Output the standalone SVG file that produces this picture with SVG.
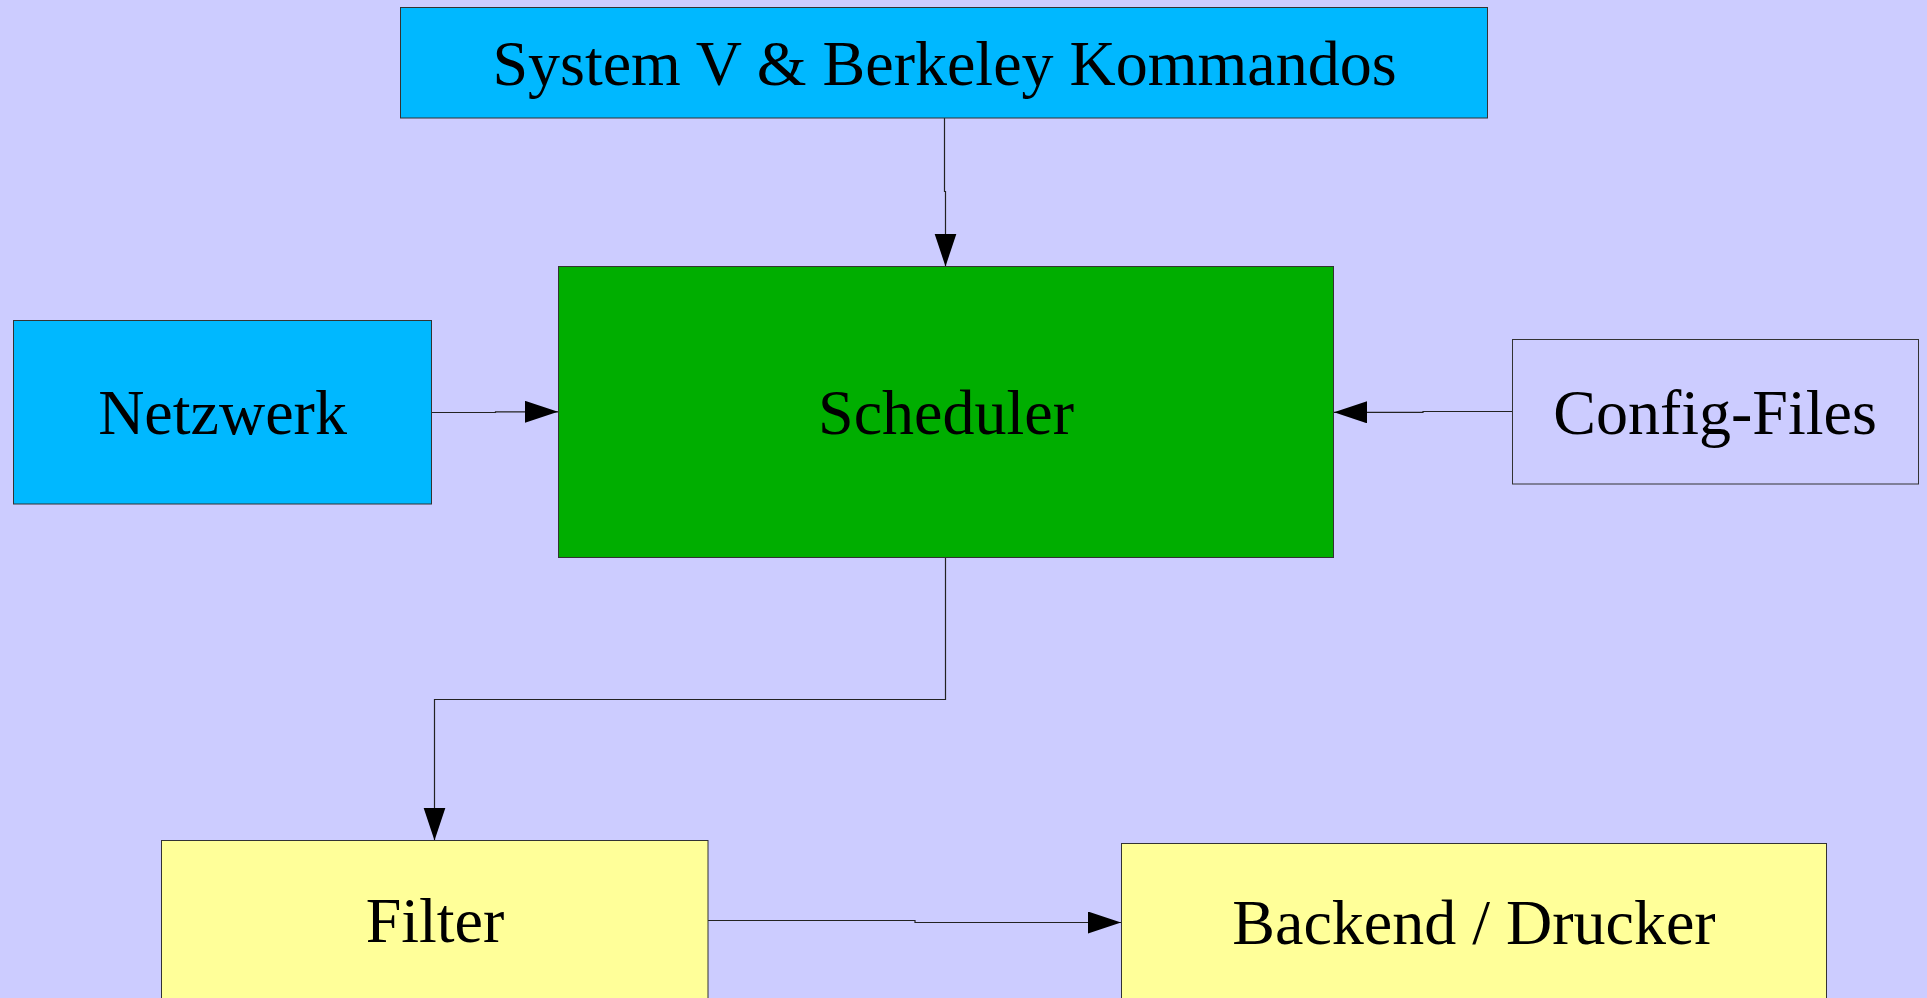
<svg xmlns="http://www.w3.org/2000/svg" width="1927" height="998" viewBox="0 0 1927 998">
<style>
.box{stroke:#333333;stroke-width:1}
.lbl{font-family:"Liberation Serif","Times New Roman",serif;font-size:64px;fill:#000000;text-anchor:middle}
.con{fill:none;stroke:#222222;stroke-width:1.2;marker-end:url(#arr)}
</style>
<defs>
<marker id="arr" markerUnits="userSpaceOnUse" markerWidth="34" markerHeight="23" refX="33" refY="11" orient="auto">
<path d="M0,0 L33,11 L0,22 Z" fill="#000000"/>
</marker>
</defs>
<rect x="0" y="0" width="1927" height="998" fill="#ccccff"/>
<g id="connectors">
<path class="con" d="M944.5,118 V191.5 H945.5 V266.5"/>
<path class="con" d="M432,412.5 H495.5 V411.8 H558"/>
<path class="con" d="M1512,411.5 H1423 V412.3 H1334"/>
<path class="con" d="M945.5,558 V699.5 H434.5 V840.5"/>
<path class="con" d="M708,920.5 H915 V922.5 H1121"/>
</g>
<g id="kommandos">
<rect class="box" x="400.5" y="7.5" width="1087" height="110.5" fill="#00b8ff"/>
<text class="lbl" x="944.5" y="85">System V &amp; Berkeley Kommandos</text>
</g>
<g id="scheduler">
<rect class="box" x="558.5" y="266.5" width="775" height="291" fill="#00ae00"/>
<text class="lbl" x="946" y="434">Scheduler</text>
</g>
<g id="netzwerk">
<rect class="box" x="13.5" y="320.5" width="418" height="183.5" fill="#00b8ff"/>
<text class="lbl" x="222.5" y="434">Netzwerk</text>
</g>
<g id="config">
<rect class="box" x="1512.5" y="339.5" width="406" height="144.5" fill="#ccccff"/>
<text class="lbl" x="1715" y="434">Config-Files</text>
</g>
<g id="filter">
<rect class="box" x="161.5" y="840.5" width="546.5" height="160" fill="#ffff99"/>
<text class="lbl" x="435" y="942">Filter</text>
</g>
<g id="backend">
<rect class="box" x="1121.5" y="843.5" width="705" height="160" fill="#ffff99"/>
<text class="lbl" x="1474" y="944">Backend / Drucker</text>
</g>
</svg>
